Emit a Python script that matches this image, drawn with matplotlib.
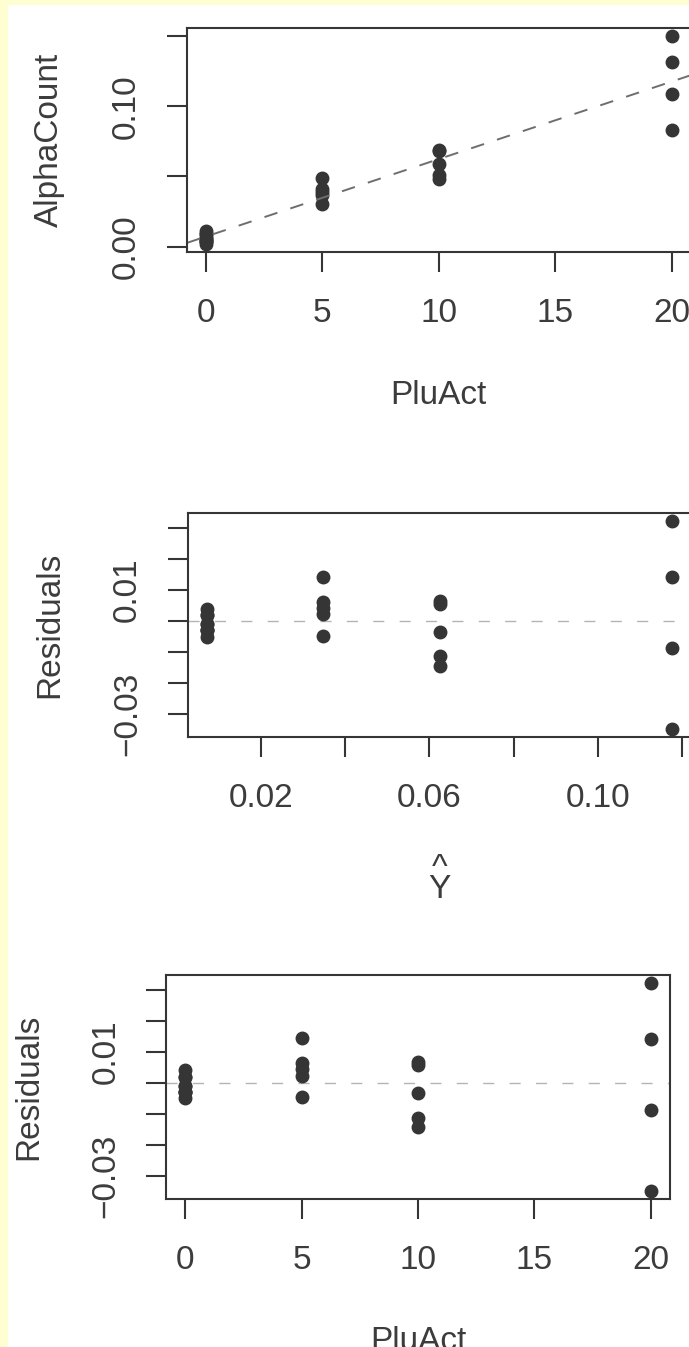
import numpy as np
import matplotlib
matplotlib.use("Agg")
import matplotlib.pyplot as plt
from matplotlib.patches import Rectangle

plu_act = [20, 0, 10, 5, 0, 0, 5, 20, 10, 0, 0, 10, 0, 20, 5, 5, 20, 0, 0, 10, 10, 0, 5]
alpha_count = [0.150, 0.004, 0.069, 0.030, 0.011, 0.004, 0.041, 0.109, 0.068, 0.009,
               0.009, 0.048, 0.006, 0.083, 0.037, 0.039, 0.132, 0.004, 0.006, 0.059,
               0.051, 0.002, 0.049]

plu_ticks = [0, 5, 10, 15, 20]
plu_labels = ["0", "5", "10", "15", "20"]
alpha_ticks = [0.00, 0.05, 0.10, 0.15]
alpha_labels = ["0.00", "", "0.10", ""]
fit_ticks = [0.02, 0.04, 0.06, 0.08, 0.10, 0.12]
fit_labels = ["0.02", "", "0.06", "", "0.10", ""]
res_ticks = [-0.03, -0.02, -0.01, 0.00, 0.01, 0.02, 0.03]
res_labels = ["\u22120.03", "", "", "", "0.01", "", ""]

W, H = 689, 1347
INK = "#353535"
TXT = "#3c3c3c"
FS = 24
plt.rcParams["font.family"] = ["Liberation Sans", "DejaVu Sans"]


def r_lim(v):
    """R style axis range: data range padded by 4% each side."""
    lo, hi = float(np.min(v)), float(np.max(v))
    pad = 0.04 * (hi - lo)
    return lo - pad, hi + pad


def make_axes(fig, left, top, width, height):
    ax = fig.add_axes([left / W, 1 - (top + height) / H, width / W, height / H])
    for sp in ax.spines.values():
        sp.set_color(INK)
        sp.set_linewidth(1.5)
    ax.tick_params(length=14.4, width=1.5, color=INK, labelcolor=TXT, labelsize=FS)
    ax.tick_params(axis="x", pad=19)
    ax.tick_params(axis="y", pad=18)
    return ax


def finish(ax, xticks, xlabels, yticks, ylabels, xlab, ylab, **kw):
    ax.set_xticks(xticks)
    ax.set_xticklabels(xlabels)
    ax.set_yticks(yticks)
    ax.set_yticklabels(ylabels, rotation=90, va="center")
    bb = ax.get_position()
    wpx, hpx = bb.width * W, bb.height * H
    ax.text(0.5, -kw.get("xlab_off", 143) / hpx, xlab, transform=ax.transAxes,
            ha="center", va="center", multialignment="center",
            linespacing=kw.get("linespacing", 1.2), fontsize=FS, color=TXT)
    ax.text(-138 / wpx, 0.5, ylab, transform=ax.transAxes, ha="center",
            va="center", rotation=90, fontsize=FS, color=TXT)


x = np.array(plu_act, dtype=float)
y = np.array(alpha_count)
slope, intercept = np.polyfit(x, y, 1)
fitted = intercept + slope * x
resid = y - fitted

fig = plt.figure(figsize=(W / 100, H / 100), dpi=100, facecolor="white")
fig.patches.append(Rectangle((0, 0), 7 / W, 1, transform=fig.transFigure,
                             color="#fffed2", zorder=-1))
fig.patches.append(Rectangle((0, 1 - 4 / H), 1, 4 / H, transform=fig.transFigure,
                             color="#fffed2", zorder=-1))

# panel 1: AlphaCount vs PluAct with fitted line
ax1 = make_axes(fig, 187, 28, 503.7, 224)
xl = r_lim(x)
ax1.set_xlim(xl)
ax1.set_ylim(r_lim(y))
ax1.plot(x, y, "o", ms=9, color=INK, mec=INK)
xx = np.array(xl)
ax1.plot(xx, intercept + slope * xx, color="#6e6e6e", lw=1.4, ls=(0, (7, 7)))
finish(ax1, plu_ticks, plu_labels, alpha_ticks, alpha_labels, "PluAct", "AlphaCount")

# panel 2: residuals vs fitted (x label is Y-hat, caret over Y)
ax2 = make_axes(fig, 188, 513, 503, 224)
ax2.set_xlim(r_lim(fitted))
ax2.set_ylim(r_lim(resid))
ax2.axhline(0, color="#b4b4b4", lw=1.0, ls=(0, (8, 11)))
ax2.plot(fitted, resid, "o", ms=9, color=INK, mec=INK)
finish(ax2, fit_ticks, fit_labels, res_ticks, res_labels, "^\nY", "Residuals",
       xlab_off=142, linespacing=0.6)

# panel 3: residuals vs PluAct
ax3 = make_axes(fig, 166.4, 974.5, 503.2, 224.4)
ax3.set_xlim(r_lim(x))
ax3.set_ylim(r_lim(resid))
ax3.axhline(0, color="#b4b4b4", lw=1.0, ls=(0, (8, 11)))
ax3.plot(x, resid, "o", ms=9, color=INK, mec=INK)
finish(ax3, plu_ticks, plu_labels, res_ticks, res_labels, "PluAct", "Residuals")

fig.savefig("out.png", dpi=100, facecolor=fig.get_facecolor())
